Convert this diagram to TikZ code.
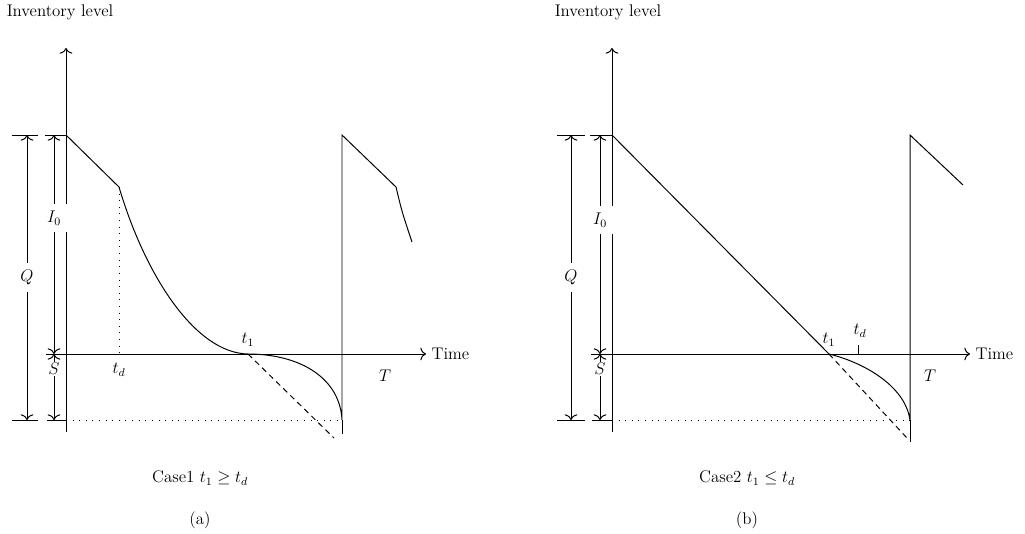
\documentclass[tikz,border=0pt]{standalone}
\usepackage{amsmath}
\usepackage{amssymb}
\usetikzlibrary{arrows.meta}

\begin{document}
\begin{tikzpicture}[x=0.025cm,y=-0.025cm,font=\large,
  axis/.style={line width=0.7pt,-{To[length=4pt,width=9pt]}},
  dimline/.style={line width=0.7pt,{To[length=4pt,width=9pt]}-{To[length=4pt,width=9pt]}},
  dimarr/.style={line width=0.7pt,-{To[length=4pt,width=9pt]}},
  tick/.style={line width=0.7pt},
  graph/.style={line width=0.7pt},
  guide/.style={line width=0.7pt,dash pattern=on 0.7pt off 4pt},
  proj/.style={line width=0.7pt,dash pattern=on 4pt off 3pt},
  dimlbl/.style={fill=white,inner sep=5pt},
  txt/.style={inner sep=1pt}
]
\useasboundingbox (0,0) rectangle (1025,533);

% (a) case t1 >= td
\coordinate (a-top) at (66,135);
\coordinate (a-zero) at (66,354);
\coordinate (a-bot) at (66,420);
\coordinate (a-td) at (119,187);
\coordinate (a-tdx) at (119,354);
\coordinate (a-t1) at (248,354);
\coordinate (a-T) at (342,420);
\coordinate (a-Ttop) at (342,135);
\draw[axis] (66,432) -- (66,48);
\draw[axis] (a-zero) -- (426,354);
\node[txt] (a-ylab) at (60,12) {Inventory level};
\node[txt,anchor=west] (a-xlab) at (430,354) {Time};
\draw[graph] (a-top) -- (a-td) .. controls (145,275) and (195,353) .. (a-t1)
  .. controls (300,354) and (340,378) .. (a-T) -- (a-Ttop) -- (396,187)
  .. controls (402,212) .. (412,242);
\draw[graph] (a-T) -- (342,434);
\draw[guide] (a-td) -- (a-tdx);
\draw[guide] (a-bot) -- (a-T);
\draw[proj] (a-t1) -- (334,438);
\node[txt] (a-tdlab) at (119,370) {$t_d$};
\node[txt] (a-t1lab) at (248,340) {$t_1$};
\node[txt] (a-Tlab) at (385,376) {$T$};
% dimensions
\draw[tick] (12,135) -- (38,135);
\draw[tick] (12,420) -- (38,420);
\draw[tick] (45,135) -- (a-top);
\draw[tick] (46,354) -- (a-zero);
\draw[tick] (47,420) -- (a-bot);
\coordinate (a-q1) at (27,135);
\coordinate (a-q2) at (27,420);
\coordinate (a-i1) at (54,135);
\coordinate (a-i2) at (54,354);
\coordinate (a-s2) at (54,420);
\draw[dimline] (a-q1) -- node[dimlbl] (a-Q) {$Q$} (a-q2);
\draw[dimline] (a-i1) -- node[dimlbl,pos=0.38] (a-I) {$I_0$} (a-i2);
\node[txt] (a-S) at (54,369) {$S$};
\draw[dimarr] (a-S.north) -- (a-i2);
\draw[dimarr] (a-S.south) -- (a-s2);
\node[txt] (a-case) at (200,478) {Case1 $t_1 \geq t_d$};
\node[txt] (a-tag) at (200,520) {(a)};

% (b) case t1 <= td
\coordinate (b-top) at (612,135);
\coordinate (b-zero) at (612,354);
\coordinate (b-bot) at (612,420);
\coordinate (b-t1) at (829,354);
\coordinate (b-td) at (858,354);
\coordinate (b-T) at (910,420);
\coordinate (b-Ttop) at (910,135);
\draw[axis] (612,432) -- (612,48);
\draw[axis] (b-zero) -- (970,354);
\node[txt] (b-ylab) at (608,12) {Inventory level};
\node[txt,anchor=west] (b-xlab) at (974,354) {Time};
\draw[graph] (b-top) -- (b-t1) .. controls (862,362) and (905,385) .. (b-T)
  -- (b-Ttop) -- (963,185);
\draw[graph] (b-T) -- (910,442);
\draw[tick] (b-td) -- (858,345);
\draw[guide] (b-bot) -- (b-T);
\draw[proj] (b-t1) -- (907,438);
\node[txt] (b-t1lab) at (829,340) {$t_1$};
\node[txt] (b-tdlab) at (860,331) {$t_d$};
\node[txt] (b-Tlab) at (930,376) {$T$};
% dimensions
\draw[tick] (557,135) -- (585,135);
\draw[tick] (557,420) -- (585,420);
\draw[tick] (590,135) -- (b-top);
\draw[tick] (591,354) -- (b-zero);
\draw[tick] (592,420) -- (b-bot);
\coordinate (b-q1) at (571,135);
\coordinate (b-q2) at (571,420);
\coordinate (b-i1) at (600,135);
\coordinate (b-i2) at (600,354);
\coordinate (b-s2) at (600,420);
\draw[dimline] (b-q1) -- node[dimlbl] (b-Q) {$Q$} (b-q2);
\draw[dimline] (b-i1) -- node[dimlbl,pos=0.39] (b-I) {$I_0$} (b-i2);
\node[txt] (b-S) at (600,369) {$S$};
\draw[dimarr] (b-S.north) -- (b-i2);
\draw[dimarr] (b-S.south) -- (b-s2);
\node[txt] (b-case) at (747,478) {Case2 $t_1 \leq t_d$};
\node[txt] (b-tag) at (747,520) {(b)};
\end{tikzpicture}
\end{document}
